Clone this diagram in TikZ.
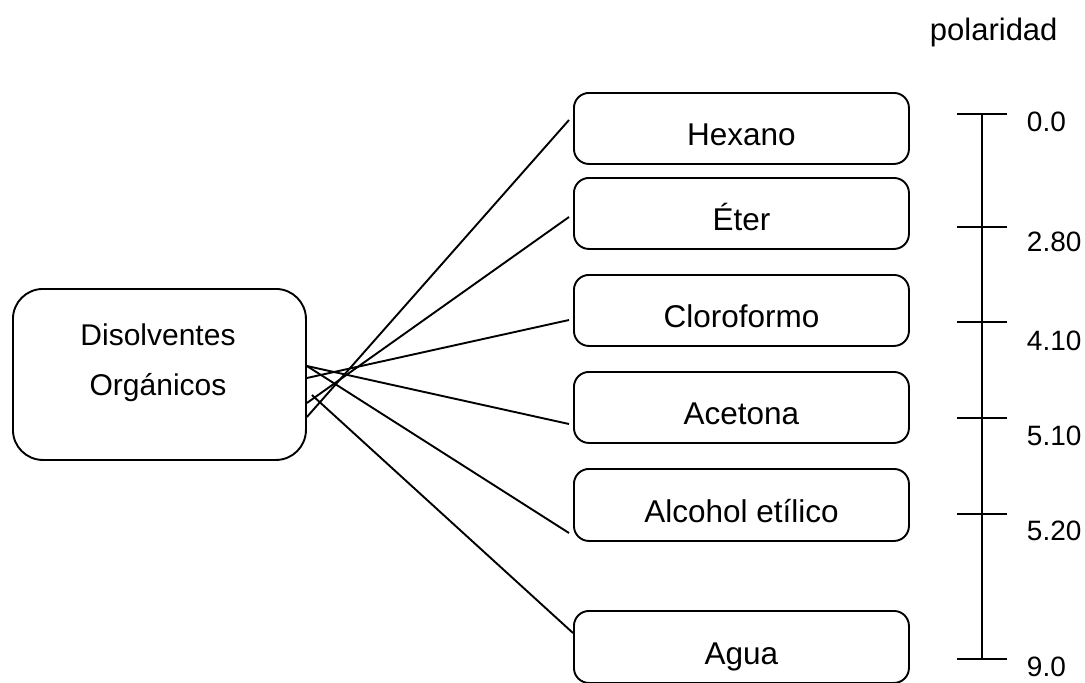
\documentclass[tikz,border=0pt]{standalone}
\usepackage{fontspec}
\setmainfont{Liberation Sans}
\begin{document}
\begin{tikzpicture}[x=1pt,y=-1pt,line width=1.9pt,
  solvent/.style={draw,rounded corners=15pt,minimum width=335pt,minimum height=71pt,
    inner sep=0pt,text height=35pt,text depth=0pt,anchor=north west,
    font=\fontsize{31.5}{36}\selectfont},
  mainbox/.style={draw,rounded corners=30pt,minimum width=293pt,minimum height=171pt,
    inner sep=0pt,anchor=north west},
  maintext/.style={anchor=base,inner sep=0pt,font=\fontsize{30}{34}\selectfont},
  scalelabel/.style={anchor=base west,inner sep=0pt,font=\fontsize{28}{32}\selectfont},
  link/.style={line width=1.9pt}]
\useasboundingbox (0,0) rectangle (1085,683);
% left box
\node[mainbox] (lb) at (12,288) {};
\node[maintext] (t1) at (158,345) {Disolventes};
\node[maintext] (t2) at (158,395) {Orgánicos};
% right boxes
\node[solvent] (hex) at (573,92) {Hexano};
\node[solvent] (eter) at (573,177) {Éter};
\node[solvent] (clo) at (573,274) {Cloroformo};
\node[solvent] (ace) at (573,371) {Acetona};
\node[solvent,minimum height=72pt] (alc) at (573,468) {Alcohol etílico};
\node[solvent,minimum height=72pt] (agua) at (573,610) {Agua};
% connector ends
\coordinate (shex) at ([yshift=-129pt]lb.north east);
\coordinate (seter) at ([yshift=-115pt]lb.north east);
\coordinate (sclo) at ([yshift=-90pt]lb.north east);
\coordinate (sace) at ([yshift=-78pt]lb.north east);
\coordinate (sagua) at ([xshift=5pt,yshift=-107pt]lb.north east);
\coordinate (ehex) at ([xshift=-4pt,yshift=-28pt]hex.north west);
\coordinate (eeter) at ([xshift=-4pt,yshift=-40pt]eter.north west);
\coordinate (eclo) at ([xshift=-4pt,yshift=-46pt]clo.north west);
\coordinate (eace) at ([xshift=-4pt,yshift=-53pt]ace.north west);
\coordinate (ealc) at ([xshift=-4pt,yshift=-65pt]alc.north west);
\coordinate (eagua) at ([yshift=-23pt]agua.north west);
\draw[link] (shex) -- (ehex);
\draw[link] (seter) -- (eeter);
\draw[link] (sclo) -- (eclo);
\draw[link] (sace) -- (eace);
\draw[link] (sace) -- (ealc);
\draw[link] (sagua) -- (eagua);
% polarity scale
\node[anchor=base west,inner sep=0pt,font=\fontsize{31}{36}\selectfont] (pol) at (929,40) {polaridad};
\coordinate (axtop) at (982,114);
\coordinate (axbot) at (982,659);
\draw (axtop) -- (axbot);
\foreach \y in {114,227,322,418,514,659} \draw (957,\y) -- (1007,\y);
\node[scalelabel] (l0) at (1026,131) {0.0};
\node[scalelabel] (l1) at (1026,251) {2.80};
\node[scalelabel] (l2) at (1026,350) {4.10};
\node[scalelabel] (l3) at (1026,445) {5.10};
\node[scalelabel] (l4) at (1026,540) {5.20};
\node[scalelabel] (l5) at (1026,676) {9.0};
\end{tikzpicture}
\end{document}
